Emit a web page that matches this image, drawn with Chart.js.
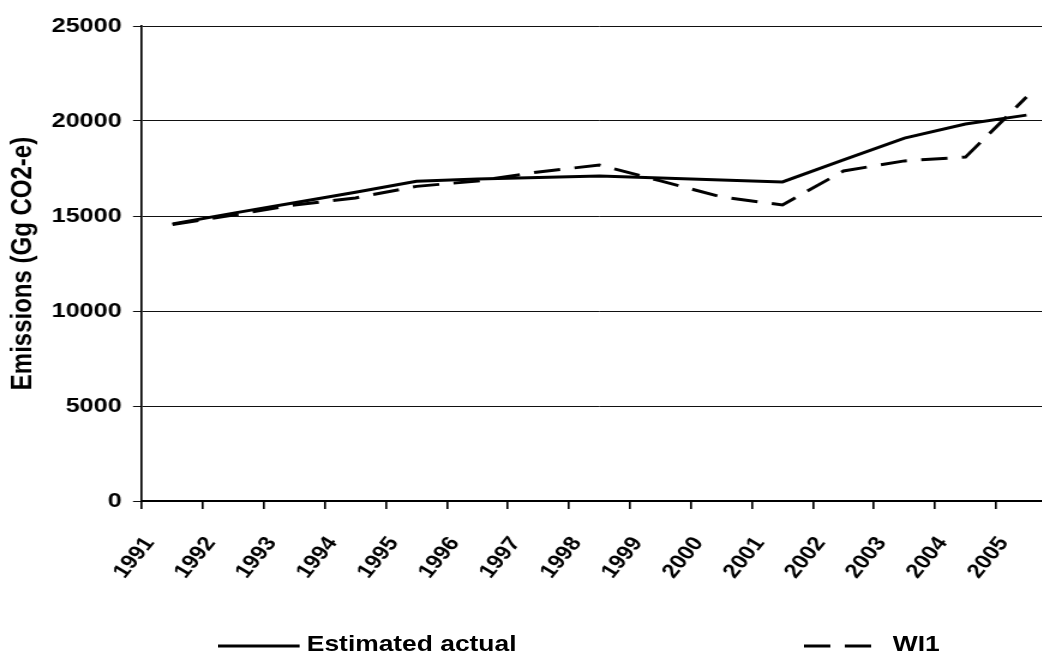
<!DOCTYPE html>
<html>
<head>
<meta charset="utf-8">
<script src="https://cdn.jsdelivr.net/npm/chart.js@4/dist/chart.umd.min.js"></script>
<style>
  html, body { margin: 0; padding: 0; overflow: hidden; background: #fff; }
  /* the original picture is stretched sideways, so draw narrow and widen */
  #stage { position: relative; width: 885px; height: 655px; transform: scaleX(1.2); transform-origin: 0 0; }
  #chart, #legend { position: absolute; left: 0; top: 0; }
</style>
</head>
<body>
<div id="stage">
  <canvas id="chart" width="885" height="655"></canvas>
  <svg id="legend" width="885" height="655"></svg>
</div>
<script>
const years = ['1991', '1992', '1993', '1994', '1995', '1996', '1997', '1998',
               '1999', '2000', '2001', '2002', '2003', '2004', '2005'];
const estimatedActual = [14580, 15150, 15700, 16250, 16830, 16950, 17030, 17100,
                         17000, 16900, 16790, 17950, 19100, 19840, 20310];
const wi1 = [14550, 15050, 15580, 15950, 16560, 16840, 17320, 17680,
             16850, 16000, 15580, 17370, 17900, 18100, 21260];
const yTicks = [0, 5000, 10000, 15000, 20000, 25000];

const fontFamily = "'Liberation Sans', Arial, sans-serif";
Chart.defaults.font.family = fontFamily;
Chart.defaults.color = '#000';

const chart = new Chart(document.getElementById('chart'), {
  type: 'line',
  data: {
    labels: years,
    datasets: [
      { label: 'Estimated actual', data: estimatedActual, borderColor: '#000', borderWidth: 3,
        borderDash: [], pointRadius: 0, tension: 0, fill: false },
      { label: 'WI1', data: wi1, borderColor: '#000', borderWidth: 3,
        borderDash: [22, 12], pointRadius: 0, tension: 0, fill: false }
    ]
  },
  options: {
    responsive: false,
    animation: false,
    devicePixelRatio: 1,
    layout: { padding: { top: 26, right: 4.2, bottom: 0, left: 0 } },
    plugins: { legend: { display: false }, tooltip: { enabled: false } },
    scales: {
      x: {
        offset: true,
        grid: { offset: true, drawOnChartArea: false, drawTicks: true, tickLength: 8, color: '#000', lineWidth: 1.67 },
        border: { display: true, color: '#000', width: 2 },
        ticks: {
          autoSkip: false, minRotation: 55, maxRotation: 55, padding: 23.7, labelOffset: -19,
          font: { size: 20, weight: 'bold' }
        },
        afterFit: s => {
          s.height = 154;
          // the last category runs off the right edge, as in the original
          s.paddingLeft = 0;
          s.paddingRight = 0;
        }
      },
      y: {
        min: 0, max: 25000,
        grid: { color: '#111', lineWidth: 1, tickLength: 7.5 },
        border: { display: true, color: '#000', width: 1.67 },
        ticks: { padding: 9.4, font: { size: 21, weight: 'bold' }, callback: v => String(v) },
        afterBuildTicks: s => { s.ticks = yTicks.map(v => ({ value: v })); },
        title: {
          display: true, text: 'Emissions (Gg CO2-e)',
          font: { size: 24, weight: 'bold' }, padding: { top: 5.2, bottom: 0 }
        },
        afterFit: s => { s.width = 118.3; }
      }
    }
  }
});

// legend under the plot, one entry at each side
const svg = document.getElementById('legend');
const ns = 'http://www.w3.org/2000/svg';
const legendStarts = [181.7, 670];
chart.data.datasets.forEach((ds, i) => {
  const x0 = legendStarts[i];
  const line = document.createElementNS(ns, 'line');
  line.setAttribute('x1', x0);
  line.setAttribute('x2', x0 + 68);
  line.setAttribute('y1', 646);
  line.setAttribute('y2', 646);
  line.setAttribute('stroke', ds.borderColor);
  line.setAttribute('stroke-width', ds.borderWidth);
  if (ds.borderDash.length) line.setAttribute('stroke-dasharray', ds.borderDash.join(' '));
  svg.appendChild(line);

  const text = document.createElementNS(ns, 'text');
  text.setAttribute('x', x0 + 74);
  text.setAttribute('y', 651);
  text.setAttribute('font-family', fontFamily);
  text.setAttribute('font-size', 22);
  text.setAttribute('font-weight', 'bold');
  text.textContent = ds.label;
  svg.appendChild(text);
});
</script>
</body>
</html>
